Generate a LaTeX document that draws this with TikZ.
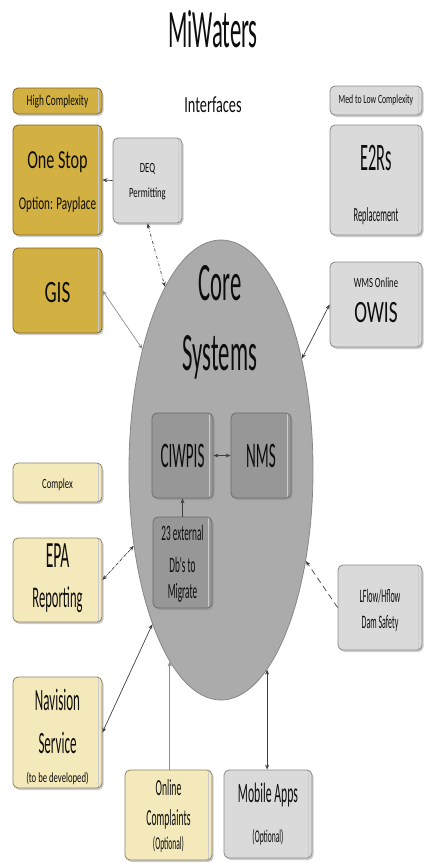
\documentclass[tikz,border=0pt]{standalone}
\usepackage{fontspec}
\setmainfont[FakeStretch=0.62]{Carlito}
\newfontfamily\narrowfont[FakeStretch=0.42]{Carlito}
\usetikzlibrary{positioning, shapes.geometric, shadows, arrows.meta}
\definecolor{goldfill}{HTML}{D2B041}
\definecolor{goldline}{HTML}{7A6726}
\definecolor{palefill}{HTML}{F4E9BA}
\definecolor{paleline}{HTML}{8C8262}
\definecolor{greyfill}{HTML}{DADADA}
\definecolor{greyline}{HTML}{8A8A8A}
\definecolor{corefill}{HTML}{ABABAB}
\definecolor{coreline}{HTML}{878787}
\definecolor{innerfill}{HTML}{979797}
\definecolor{innerline}{HTML}{6C6C6C}
\newcommand\fsz[1]{\fontsize{#1}{#1}\selectfont}

\begin{document}
\begin{tikzpicture}[x=1pt, y=-1pt, >={Stealth[length=5pt,width=4pt]},
  box/.style = {draw, rounded corners=5pt, minimum width=89pt, inner sep=0pt, line width=0.8pt,
    drop shadow={shadow xshift=1.5pt, shadow yshift=-2pt, opacity=0.4},
    path picture={\draw[black!20] ([xshift=-4pt]path picture bounding box.north east) -- ([xshift=-4pt]path picture bounding box.south east);}},
  gold/.style = {box, fill=goldfill, draw=goldline},
  pale/.style = {box, fill=palefill, draw=paleline},
  grey/.style = {box, fill=greyfill, draw=greyline},
  inner/.style = {box, fill=innerfill, draw=innerline},
  txt/.style = {anchor=base, inner sep=0pt, text=black!95},
  link/.style = {<->, draw=black!75, line width=0.7pt}]
\useasboundingbox (0,0) rectangle (424,863);

\node[txt, font=\narrowfont\fsz{54}] (title) at (213,47) {MiWaters};
\node[txt, font=\fsz{23}] (intf) at (213,112) {Interfaces};

% core
\node[ellipse, draw=coreline, fill=corefill, line width=0.8pt, minimum width=184pt, minimum height=460pt, inner sep=0pt] (core) at (221,470) {};
\node[txt, font=\narrowfont\fsz{54}] (core-a) at (220,300) {Core};
\node[txt, font=\narrowfont\fsz{54}] (core-b) at (220,370) {Systems};
\node[inner, minimum width=61pt, minimum height=85pt] (ciw) at (182.5,455.5) {};
\node[inner, minimum width=60pt, minimum height=85pt] (nms) at (261,455.5) {};
\node[inner, minimum width=59pt, minimum height=91pt] (ext) at (182.5,562.5) {};
\node[txt, font=\narrowfont\fsz{36}] (ciw-a) at (182.5,467) {CIWPIS};
\node[txt, font=\narrowfont\fsz{36}] (nms-a) at (261,467) {NMS};
\node[txt, font=\narrowfont\fsz{22}] (ext-a) at (182.5,540) {23 external};
\node[txt, font=\narrowfont\fsz{22}] (ext-b) at (182.5,572) {Db's to};
\node[txt, font=\narrowfont\fsz{22}] (ext-c) at (182.5,598) {Migrate};

% left column
\node[gold, minimum height=26pt] (hc) at (57.5,101) {};
\node[txt, font=\fsz{15}] (hc-a) at (57.5,105) {High Complexity};
\node[gold, minimum height=110pt] (os) at (57.5,180) {};
\node[txt, font=\fsz{26}] (os-a) at (57.5,168) {One Stop};
\node[txt, font=\fsz{18}] (os-b) at (57.5,209) {Option: Payplace};
\node[gold, minimum height=85pt] (gis) at (57.5,290.5) {};
\node[txt, font=\fsz{31}] (gis-a) at (57.5,302) {GIS};
\node[pale, minimum height=39pt] (cx) at (57.5,482.5) {};
\node[txt, font=\fsz{14}] (cx-a) at (57.5,488) {Complex};
\node[pale, minimum height=84pt] (epa) at (57.5,580) {};
\node[txt, font=\narrowfont\fsz{37}] (epa-a) at (57.5,567) {EPA};
\node[txt, font=\narrowfont\fsz{30}] (epa-b) at (57.5,607) {Reporting};
\node[pale, minimum height=111pt] (nav) at (57.5,732.5) {};
\node[txt, font=\narrowfont\fsz{31}] (nav-a) at (57.5,710) {Navision};
\node[txt, font=\narrowfont\fsz{31}] (nav-b) at (57.5,753) {Service};
\node[txt, font=\fsz{14}] (nav-c) at (57.5,782) {(to be developed)};

% bottom row
\node[pale, minimum width=87pt, minimum height=90pt] (onl) at (168.5,815) {};
\node[txt, font=\narrowfont\fsz{23}] (onl-a) at (168.5,795) {Online};
\node[txt, font=\narrowfont\fsz{23}] (onl-b) at (168.5,825) {Complaints};
\node[txt, font=\narrowfont\fsz{18}] (onl-c) at (168.5,849) {(Optional)};
\node[grey, minimum width=88pt, minimum height=88pt] (mob) at (268,814) {};
\node[txt, font=\narrowfont\fsz{28}] (mob-a) at (268,802) {Mobile Apps};
\node[txt, font=\narrowfont\fsz{18}] (mob-b) at (268,842) {(Optional)};

% right column
\node[grey, minimum width=69pt, minimum height=85pt] (deq) at (147.5,180.5) {};
\node[txt, font=\fsz{14}] (deq-a) at (147.5,172) {DEQ};
\node[txt, font=\fsz{14}] (deq-b) at (147.5,197) {Permitting};
\node[grey, minimum width=92pt, minimum height=29pt] (mlc) at (376,100.5) {};
\node[txt, font=\fsz{12.5}] (mlc-a) at (376,103) {Med to Low Complexity};
\node[grey, minimum width=92pt, minimum height=110pt] (e2r) at (376,180) {};
\node[txt, font=\narrowfont\fsz{39}] (e2r-a) at (376,170) {E2Rs};
\node[txt, font=\narrowfont\fsz{20}] (e2r-b) at (376,221) {Replacement};
\node[grey, minimum width=92pt, minimum height=85pt] (owis) at (376,304.5) {};
\node[txt, font=\fsz{14}] (owis-a) at (376,287) {WMS Online};
\node[txt, font=\fsz{31}] (owis-b) at (376,322) {OWIS};
\node[grey, minimum width=84pt, minimum height=85pt] (lfl) at (380,607.5) {};
\node[txt, font=\narrowfont\fsz{19}] (lfl-a) at (380,602) {LFlow/Hflow};
\node[txt, font=\narrowfont\fsz{19}] (lfl-b) at (380,628) {Dam Safety};

% connectors
\path (deq.west) edge [->, draw=black!75, line width=0.7pt] (os.east);
\path (deq.south) edge [link, dash dot] (core.107);
\path (gis.east) edge [link, draw=black!45] (core.123);
\path (owis.west) edge [link] (core.54);
\path (epa.east) edge [link, densely dashdotted] (core.221);
\path (nav.east) edge [link] (core.246);
\path (core.255 |- onl.north) edge [->, draw=black!45, line width=0.7pt] (core.255);
\path (core.283 |- mob.north) edge [link] (core.283);
\path (lfl.west) edge [->, draw=black!75, line width=0.7pt, dash pattern=on 6pt off 4pt] (core.-47.8);
\path (ciw) edge [link] (nms);
\path (ext) edge [->, draw=black!75, line width=0.7pt] (ciw);
\end{tikzpicture}
\end{document}
